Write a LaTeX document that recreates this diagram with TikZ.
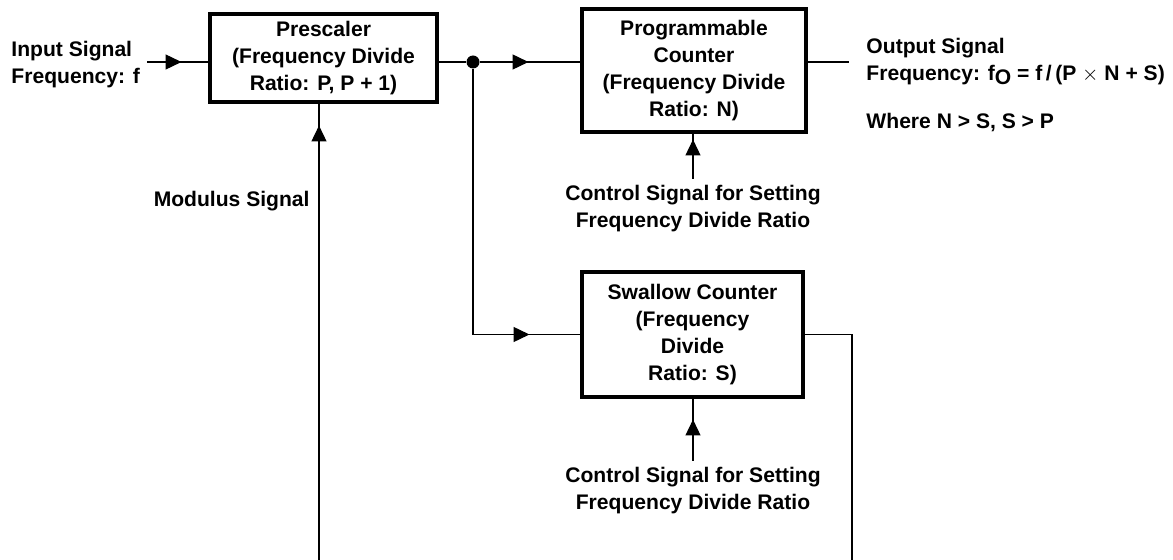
\documentclass[tikz,border=0pt]{standalone}
\usepackage{fontspec}
\setmainfont{Liberation Sans}
\usetikzlibrary{arrows.meta,decorations.markings}
\tikzset{
  blk/.style={draw, line width=1.8pt, align=center, inner sep=0pt},
  tipat/.style={postaction={decorate}, decoration={markings, mark=at position #1 with {\arrow{Triangle[length=9pt,width=8.5pt]}}}},
}
\begin{document}
\begin{tikzpicture}[x=0.02cm, y=-0.02cm, line width=0.7pt, every node/.style={font=\fontsize{12}{15.4}\selectfont\bfseries}]
        \useasboundingbox (0,0) rectangle (1173,560);
        \node [blk, minimum width=4.54cm, minimum height=1.76cm] (pre) at (323.5,58) {Prescaler\\(Frequency Divide\\Ratio: P, P + 1)};
        \node [blk, minimum width=4.48cm, minimum height=2.46cm] (prog) at (694,70.5) {Programmable\\Counter\\(Frequency Divide\\Ratio: N)};
        \node [blk, minimum width=4.42cm, minimum height=2.5cm] (swal) at (692.5,334.5) {Swallow Counter\\(Frequency\\Divide\\Ratio: S)};
        \node [circle, fill, inner sep=0pt, minimum size=0.26cm] (dot) at (473,62) {};
        \node [anchor=west, align=left] (in) at (5,65) {Input Signal\\Frequency: f};
        \node [anchor=east] (mod) at (316,201) {Modulus Signal};
        \node [anchor=west, align=left] (out) at (860,61.5) {Output Signal\\Frequency: f\raisebox{-2.5pt}{O} = f\,/\,(P $\times$ N + S)};
        \node [anchor=west] (cond) at (860,122) {Where N > S, S > P};
        \node [align=center] (ctlN) at (693,208.5) {Control Signal for Setting\\Frequency Divide Ratio};
        \node [align=center] (ctlS) at (693,490.5) {Control Signal for Setting\\Frequency Divide Ratio};
        \coordinate (inA) at (147,62);
        \coordinate (outB) at (849,62);
        \coordinate (modB) at (319,560);
        \coordinate (swB) at (852,560);
        \draw [tipat=-0.54cm] (inA) -- (inA -| pre.west);
        \draw [] (pre.east |- dot) -- (dot);
        \draw [tipat=-1.04cm] (dot) -- (dot -| prog.west);
        \draw [tipat=-1.02cm] (dot) |- (swal.west);
        \draw [] (prog.east |- dot) -- (outB);
        \draw [tipat=-0.44cm] (modB) -- (modB |- pre.south);
        \draw [tipat=-0.12cm] (ctlN.north) -- (ctlN.north |- prog.south);
        \draw [tipat=-0.42cm] (ctlS.north) -- (ctlS.north |- swal.south);
        \draw [] (swal.east) -| (swB);
    \end{tikzpicture}
\end{document}
